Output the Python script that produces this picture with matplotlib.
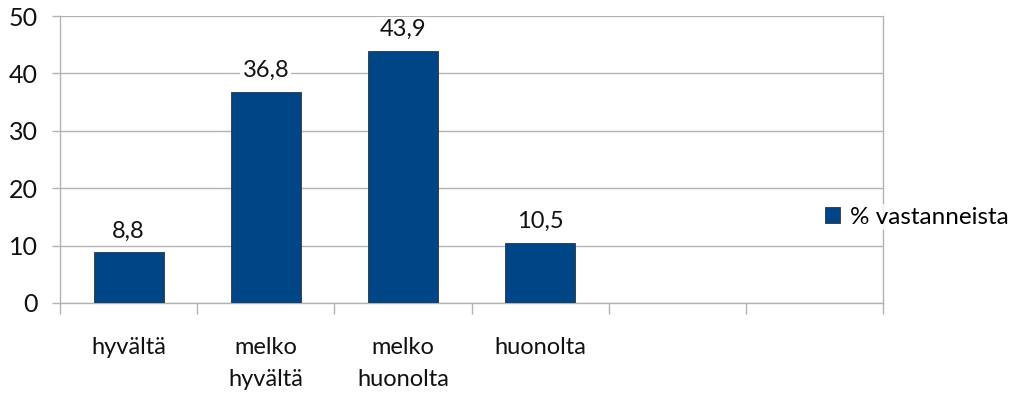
import matplotlib
matplotlib.use("Agg")
import matplotlib.pyplot as plt

categories = ["hyvältä", "melko\nhyvältä", "melko\nhuonolta", "huonolta", "", ""]
values = [8.8, 36.8, 43.9, 10.5, None, None]
value_labels = ["8,8", "36,8", "43,9", "10,5"]
series_name = "% vastanneista"
y_ticks = [0, 10, 20, 30, 40, 50]

bar_color = "#004586"
grid_color = "#b3b3b3"
plt.rcParams["font.family"] = ["Lato", "DejaVu Sans"]

fig = plt.figure(figsize=(10.22, 3.94), dpi=100)
ax = fig.add_axes([60 / 1022, 1 - 303 / 394, (883 - 60) / 1022, (303 - 16) / 394])

xs = list(range(len(categories)))
plot_x = [x for x, v in zip(xs, values) if v is not None]
plot_v = [v for v in values if v is not None]
bars = ax.bar(plot_x, plot_v, width=0.51, color=bar_color, edgecolor="#333333",
              linewidth=0.6, zorder=3, label=series_name)

for x, v, t in zip(plot_x, plot_v, value_labels):
    ax.text(x, v + 1.9, t, ha="center", va="bottom", fontsize=17, color="#111111",
            zorder=4, bbox=dict(facecolor="white", edgecolor="none", pad=1.5))

ax.set_xlim(-0.5, len(categories) - 0.5)
ax.set_ylim(0, 50)
ax.set_yticks(y_ticks)
ax.set_yticklabels([str(t) for t in y_ticks], fontsize=18, color="#111111")
ax.yaxis.grid(True, color=grid_color, linewidth=1.0, zorder=0)
ax.set_axisbelow(True)

# category boundaries as tick marks below the axis
ax.set_xticks([x - 0.5 for x in xs] + [len(categories) - 0.5])
ax.set_xticklabels([])
ax.tick_params(axis="x", length=8, color=grid_color, width=1.0)
ax.tick_params(axis="y", length=6, color=grid_color, width=1.0, pad=10)
for x, c in zip(xs, categories):
    ax.text(x, -6.0, c, ha="center", va="top", fontsize=17, color="#111111",
            linespacing=1.6, transform=ax.transData, clip_on=False)

ax.spines["top"].set_visible(False)
for side in ["right", "left", "bottom"]:
    ax.spines[side].set_color(grid_color)
    ax.spines[side].set_linewidth(1.0)

leg = fig.legend(handles=[bars], labels=[series_name], loc="center left",
                 bbox_to_anchor=(823 / 1022, 1 - 217 / 394), frameon=True,
                 fontsize=17.5, handlelength=0.6, handleheight=0.6, handletextpad=0.4,
                 borderpad=0.1, borderaxespad=0, fancybox=False)
leg.get_frame().set_facecolor("white")
leg.get_frame().set_edgecolor("none")

fig.savefig("out.png", dpi=100, facecolor="white")
